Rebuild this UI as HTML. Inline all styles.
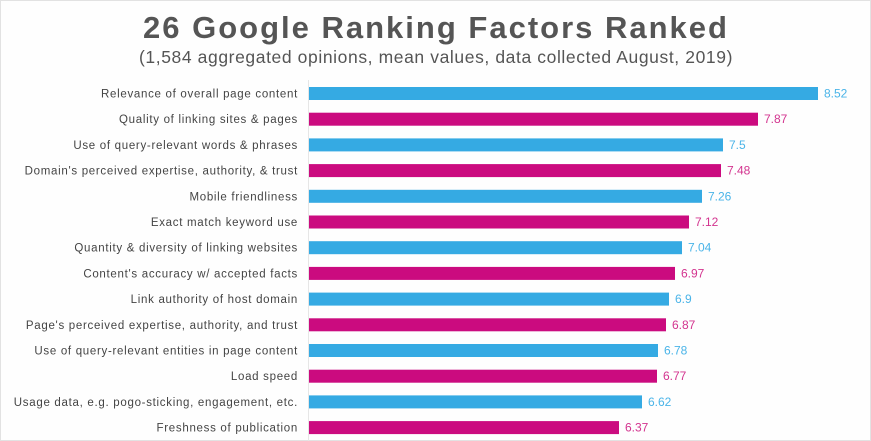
<!DOCTYPE html>
<html><head><meta charset="utf-8"><style>
body{margin:0;background:#fff}
svg{display:block}
</style></head><body>
<svg width="871" height="441" xmlns="http://www.w3.org/2000/svg" font-family="Liberation Sans, sans-serif">
<rect x="0.5" y="0.5" width="870" height="440" fill="#fefefe" stroke="#e2e2e2"/>
<text x="436" y="38" text-anchor="middle" font-size="31" font-weight="bold" fill="#555" letter-spacing="2">26 Google Ranking Factors Ranked</text>
<text x="436" y="63" text-anchor="middle" font-size="17.5" fill="#555" letter-spacing="0.6">(1,584 aggregated opinions, mean values, data collected August, 2019)</text>
<line x1="308.5" y1="80" x2="308.5" y2="441" stroke="#e6e6e6"/>
<g font-size="11.5" fill="#444" text-anchor="end" letter-spacing="0.7">
<text x="298" y="97.5">Relevance of overall page content</text>
<text x="298" y="123.2">Quality of linking sites &amp; pages</text>
<text x="298" y="148.9">Use of query-relevant words &amp; phrases</text>
<text x="298" y="174.6">Domain's perceived expertise, authority, &amp; trust</text>
<text x="298" y="200.3">Mobile friendliness</text>
<text x="298" y="226">Exact match keyword use</text>
<text x="298" y="251.7">Quantity &amp; diversity of linking websites</text>
<text x="298" y="277.4">Content's accuracy w/ accepted facts</text>
<text x="298" y="303.1">Link authority of host domain</text>
<text x="298" y="328.8">Page's perceived expertise, authority, and trust</text>
<text x="298" y="354.5">Use of query-relevant entities in page content</text>
<text x="298" y="380.2">Load speed</text>
<text x="298" y="405.9">Usage data, e.g. pogo-sticking, engagement, etc.</text>
<text x="298" y="431.6">Freshness of publication</text>
</g>
<g>
<rect x="309" y="87" width="509" height="13" fill="#35aae3"/>
<rect x="309" y="112.7" width="449" height="13" fill="#cb0b7f"/>
<rect x="309" y="138.4" width="414" height="13" fill="#35aae3"/>
<rect x="309" y="164.1" width="412" height="13" fill="#cb0b7f"/>
<rect x="309" y="189.8" width="393" height="13" fill="#35aae3"/>
<rect x="309" y="215.5" width="380" height="13" fill="#cb0b7f"/>
<rect x="309" y="241.2" width="373" height="13" fill="#35aae3"/>
<rect x="309" y="266.9" width="366" height="13" fill="#cb0b7f"/>
<rect x="309" y="292.6" width="360" height="13" fill="#35aae3"/>
<rect x="309" y="318.3" width="357" height="13" fill="#cb0b7f"/>
<rect x="309" y="344" width="349" height="13" fill="#35aae3"/>
<rect x="309" y="369.7" width="348" height="13" fill="#cb0b7f"/>
<rect x="309" y="395.4" width="333" height="13" fill="#35aae3"/>
<rect x="309" y="421.1" width="310" height="13" fill="#cb0b7f"/>
</g>
<g font-size="12">
<text x="824" y="97.5" fill="#4ab4e8">8.52</text>
<text x="764" y="123.2" fill="#d3348f">7.87</text>
<text x="729" y="148.9" fill="#4ab4e8">7.5</text>
<text x="727" y="174.6" fill="#d3348f">7.48</text>
<text x="708" y="200.3" fill="#4ab4e8">7.26</text>
<text x="695" y="226" fill="#d3348f">7.12</text>
<text x="688" y="251.7" fill="#4ab4e8">7.04</text>
<text x="681" y="277.4" fill="#d3348f">6.97</text>
<text x="675" y="303.1" fill="#4ab4e8">6.9</text>
<text x="672" y="328.8" fill="#d3348f">6.87</text>
<text x="664" y="354.5" fill="#4ab4e8">6.78</text>
<text x="663" y="380.2" fill="#d3348f">6.77</text>
<text x="648" y="405.9" fill="#4ab4e8">6.62</text>
<text x="625" y="431.6" fill="#d3348f">6.37</text>
</g>
</svg>
</body></html>
